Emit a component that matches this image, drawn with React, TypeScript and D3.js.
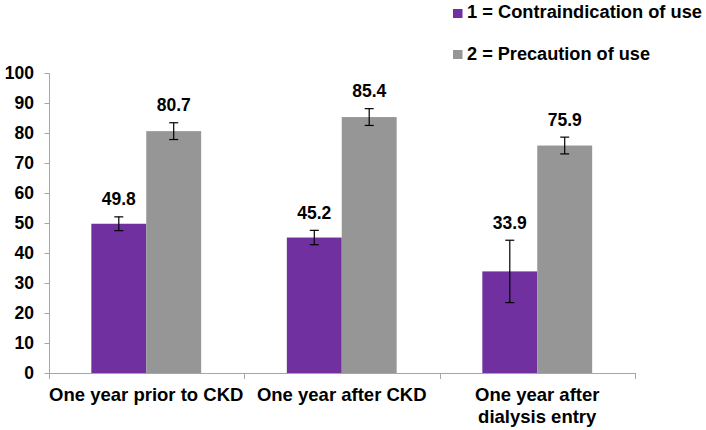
import React from "react";
import * as d3 from "d3";

const categories: string[][] = [
  ["One year prior to CKD"],
  ["One year after CKD"],
  ["One year after", "dialysis entry"],
];
const seriesNames = ["1 = Contraindication of use", "2 = Precaution of use"];
const contraindication = [49.8, 45.2, 33.9];
const contraErr = [2.3, 2.4, 10.4];
const precaution = [80.7, 85.4, 75.9];
const precautionErr = [2.8, 2.8, 2.8];
const yTicks = [0, 10, 20, 30, 40, 50, 60, 70, 80, 90, 100];

const colors = ["#7030A0", "#969696"];
const font = "'Liberation Sans', Arial, sans-serif";
const legendWidths = [235, 183];

export default function App() {
  const W = 706, H = 430;
  const x0 = 48.5, x1 = 635, yTop = 73.3, yBot = 373;
  const x = d3.scaleBand<number>().domain(d3.range(categories.length)).range([x0, x1]).paddingInner(0).paddingOuter(0);
  const y = d3.scaleLinear().domain([0, 100]).range([yBot, yTop]);
  const inner = d3.scaleBand<number>().domain([0, 1]).range([0, x.bandwidth()]).paddingOuter(0.78).paddingInner(0);
  const series = [
    { vals: contraindication, errs: contraErr },
    { vals: precaution, errs: precautionErr },
  ];
  const axisColor = "#A6A6A6";
  const ax = Math.round(x0) + 0.5;
  return (
    <svg width={W} height={H} style={{ position: "absolute", left: 0, top: 0, background: "#fff" }} fontFamily={font}>
      {/* y axis */}
      <line x1={ax} x2={ax} y1={yTop} y2={yBot} stroke={axisColor} />
      {yTicks.map((t) => (
        <g key={t}>
          <line x1={ax - 5} x2={ax} y1={Math.round(y(t)) + 0.5} y2={Math.round(y(t)) + 0.5} stroke={axisColor} />
          <text x={34} y={y(t) + 6} textAnchor="end" fontSize={17.5} fontWeight="bold" fill="#000">{t}</text>
        </g>
      ))}
      {/* bars */}
      {series.map((s, si) =>
        s.vals.map((v, ci) => {
          const bx = (x(ci) as number) + (inner(si) as number);
          const bw = inner.bandwidth();
          const cx = bx + bw / 2;
          const eTop = y(v + s.errs[ci]);
          const eBot = y(v - s.errs[ci]);
          return (
            <g key={`${si}-${ci}`}>
              <rect x={bx} y={y(v)} width={bw} height={yBot - y(v)} fill={colors[si]} />
              <line x1={cx} x2={cx} y1={eTop} y2={eBot} stroke="#000" strokeWidth={1.2} />
              <line x1={cx - 4.5} x2={cx + 4.5} y1={eTop} y2={eTop} stroke="#000" strokeWidth={1.2} />
              <line x1={cx - 4.5} x2={cx + 4.5} y1={eBot} y2={eBot} stroke="#000" strokeWidth={1.2} />
              <text x={cx} y={eTop - 11.5} textAnchor="middle" fontSize={17.5} fontWeight="bold" fill="#000">
                {v.toFixed(1)}
              </text>
            </g>
          );
        })
      )}
      {/* x axis */}
      <line x1={ax} x2={x1} y1={yBot + 0.5} y2={yBot + 0.5} stroke={axisColor} />
      {d3.range(categories.length + 1).map((i) => {
        const tx = Math.round(x0 + i * x.bandwidth()) + 0.5;
        return <line key={i} x1={tx} x2={tx} y1={yBot} y2={yBot + 6} stroke={axisColor} />;
      })}
      {categories.map((lines, ci) =>
        lines.map((l, li) => (
          <text
            key={`${ci}-${li}`}
            x={(x(ci) as number) + x.bandwidth() / 2}
            y={401 + li * 21.5}
            textAnchor="middle"
            fontSize={18.5}
            fontWeight="bold"
            fill="#000"
          >
            {l}
          </text>
        ))
      )}
      {/* legend */}
      {seriesNames.map((n, i) => (
        <g key={n}>
          <rect x={453} y={9 + i * 41} width={9.5} height={9} fill={colors[i]} />
          <text x={467} y={17.5 + i * 42.5} fontSize={17.5} fontWeight="bold" fill="#000" textLength={legendWidths[i]} lengthAdjust="spacingAndGlyphs">{n}</text>
        </g>
      ))}
    </svg>
  );
}
